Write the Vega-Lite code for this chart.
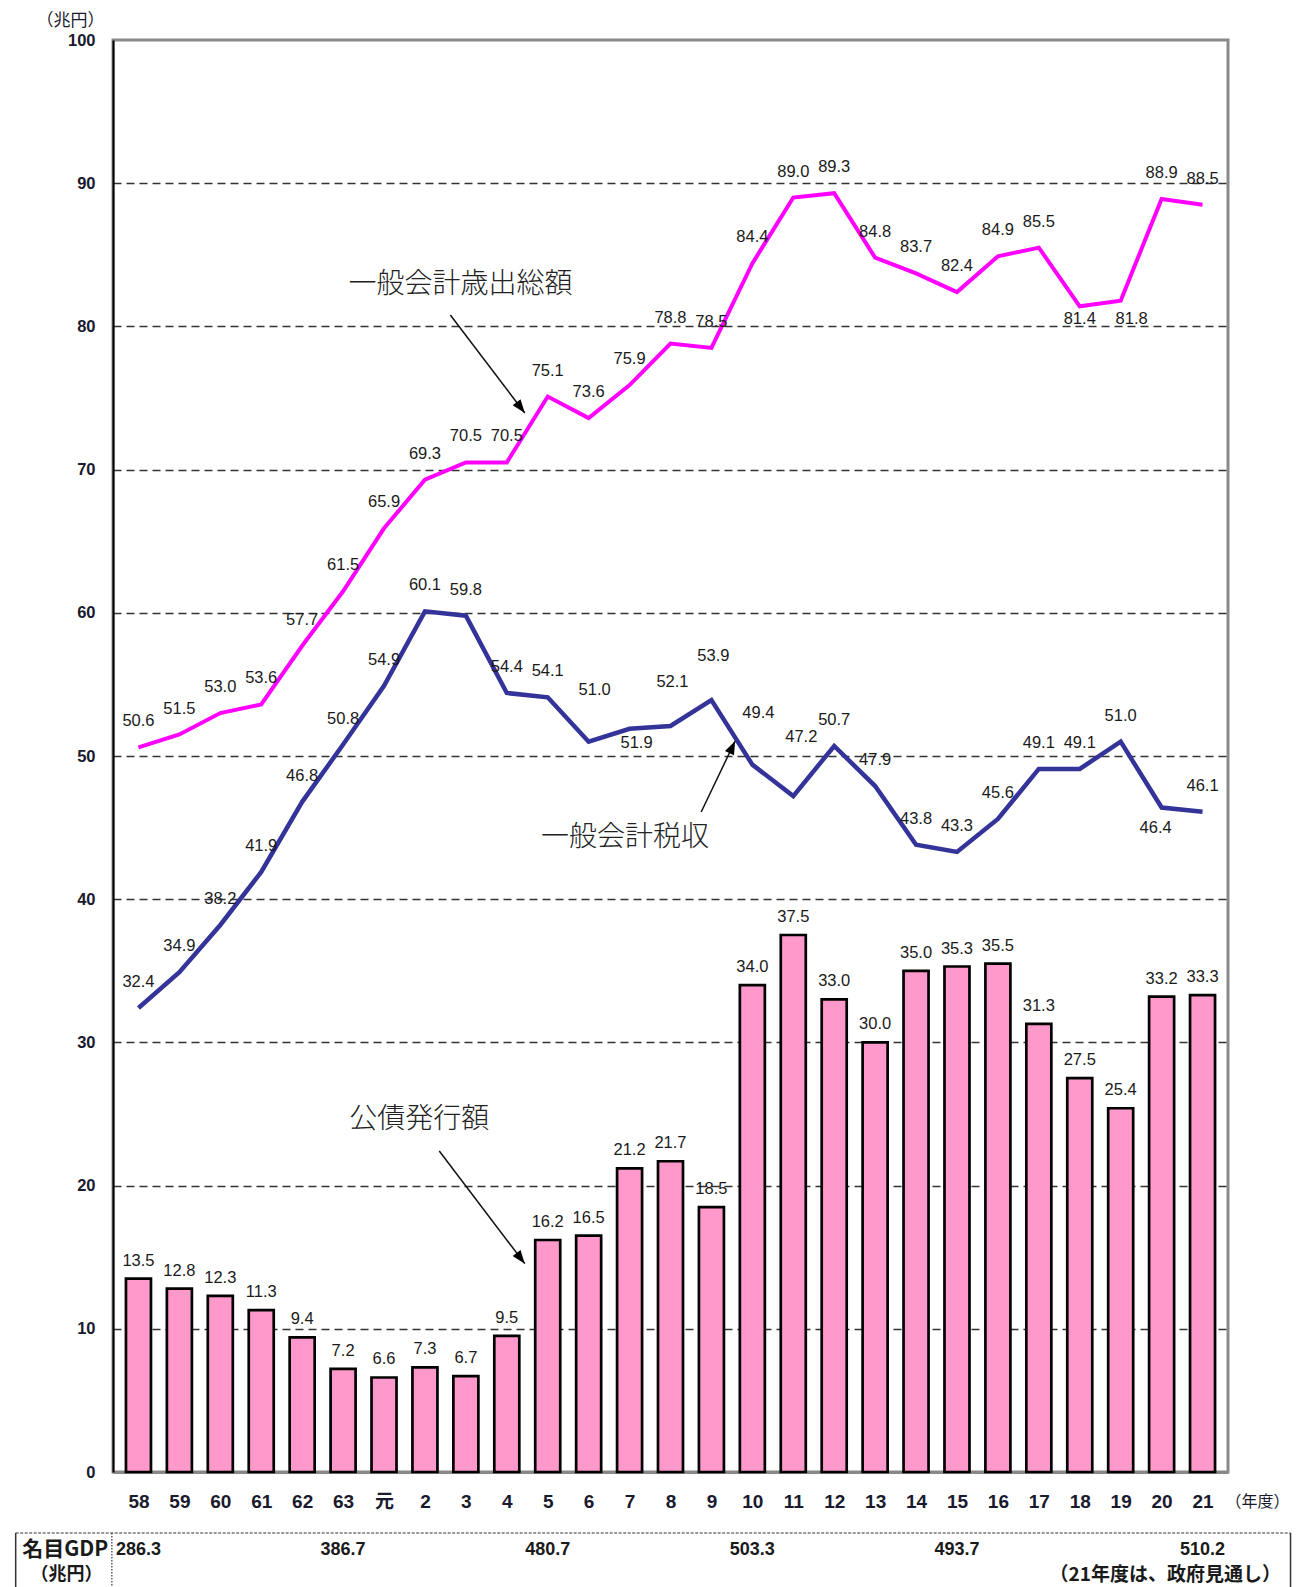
{
  "$schema": "https://vega.github.io/schema/vega-lite/v6.json",
  "width": 1115,
  "height": 1432,
  "autosize": {"type": "none"},
  "padding": {"left": 113, "top": 40, "right": 72, "bottom": 115},
  "background": "white",
  "view": {"stroke": "#8a8a8a", "strokeWidth": 3},
  "config": {
    "text": {"font": "Liberation Sans", "fontSize": 16.5, "color": "#1a1a1a", "align": "center", "baseline": "middle"}
  },
  "datasets": {
    "main": [
      {"year": 1983, "spend": 50.6, "tax": 32.4, "bonds": 13.5},
      {"year": 1984, "spend": 51.5, "tax": 34.9, "bonds": 12.8},
      {"year": 1985, "spend": 53.0, "tax": 38.2, "bonds": 12.3},
      {"year": 1986, "spend": 53.6, "tax": 41.9, "bonds": 11.3},
      {"year": 1987, "spend": 57.7, "tax": 46.8, "bonds": 9.4},
      {"year": 1988, "spend": 61.5, "tax": 50.8, "bonds": 7.2},
      {"year": 1989, "spend": 65.9, "tax": 54.9, "bonds": 6.6},
      {"year": 1990, "spend": 69.3, "tax": 60.1, "bonds": 7.3},
      {"year": 1991, "spend": 70.5, "tax": 59.8, "bonds": 6.7},
      {"year": 1992, "spend": 70.5, "tax": 54.4, "bonds": 9.5},
      {"year": 1993, "spend": 75.1, "tax": 54.1, "bonds": 16.2},
      {"year": 1994, "spend": 73.6, "tax": 51.0, "bonds": 16.5},
      {"year": 1995, "spend": 75.9, "tax": 51.9, "bonds": 21.2},
      {"year": 1996, "spend": 78.8, "tax": 52.1, "bonds": 21.7},
      {"year": 1997, "spend": 78.5, "tax": 53.9, "bonds": 18.5},
      {"year": 1998, "spend": 84.4, "tax": 49.4, "bonds": 34.0},
      {"year": 1999, "spend": 89.0, "tax": 47.2, "bonds": 37.5},
      {"year": 2000, "spend": 89.3, "tax": 50.7, "bonds": 33.0},
      {"year": 2001, "spend": 84.8, "tax": 47.9, "bonds": 30.0},
      {"year": 2002, "spend": 83.7, "tax": 43.8, "bonds": 35.0},
      {"year": 2003, "spend": 82.4, "tax": 43.3, "bonds": 35.3},
      {"year": 2004, "spend": 84.9, "tax": 45.6, "bonds": 35.5},
      {"year": 2005, "spend": 85.5, "tax": 49.1, "bonds": 31.3},
      {"year": 2006, "spend": 81.4, "tax": 49.1, "bonds": 27.5},
      {"year": 2007, "spend": 81.8, "tax": 51.0, "bonds": 25.4},
      {"year": 2008, "spend": 88.9, "tax": 46.4, "bonds": 33.2},
      {"year": 2009, "spend": 88.5, "tax": 46.1, "bonds": 33.3}
    ],
    "gdp": [
      {"year": 1983, "gdp": 286.3},
      {"year": 1988, "gdp": 386.7},
      {"year": 1993, "gdp": 480.7},
      {"year": 1998, "gdp": 503.3},
      {"year": 2003, "gdp": 493.7},
      {"year": 2009, "gdp": 510.2}
    ],
    "notes": [
      {"text": "一般会計歳出総額", "year": 1990.87, "value": 82.86},
      {"text": "一般会計税収", "year": 1994.89, "value": 44.25},
      {"text": "公債発行額", "year": 1989.86, "value": 24.6}
    ],
    "arrows": [
      {"name": "spend", "year": 1990.62, "value": 80.8, "year2": 1992.44, "value2": 73.95},
      {"name": "tax", "year": 1996.75, "value": 46.09, "year2": 1997.58, "value2": 51.05},
      {"name": "bonds", "year": 1990.35, "value": 22.42, "year2": 1992.44, "value2": 14.55}
    ]
  },
  "layer": [
    {
      "data": {"name": "main"},
      "encoding": {
        "x": {
          "field": "year", "type": "quantitative",
          "scale": {"domain": [1982.5, 2009.5], "nice": false, "zero": false},
          "axis": {
            "values": [1983,1984,1985,1986,1987,1988,1989,1990,1991,1992,1993,1994,1995,1996,1997,1998,1999,2000,2001,2002,2003,2004,2005,2006,2007,2008,2009],
            "labelExpr": "datum.value == 1989 ? '元' : '' + (datum.value < 1989 ? datum.value - 1925 : datum.value - 1988)",
            "labelFont": "Liberation Sans, Noto Sans CJK JP",
            "labelFontSize": 19,
            "labelFontWeight": "bold",
            "labelColor": "#1a1a2e",
            "labelBaseline": "middle",
            "labelPadding": 29,
            "labelFlush": false,
            "labelOverlap": false,
            "ticks": false,
            "grid": false,
            "domainColor": "#888888",
            "domainWidth": 3,
            "title": "（年度）",
            "titleX": 1144,
            "titleY": 29,
            "titleAlign": "center",
            "titleBaseline": "middle",
            "titleFont": "Noto Sans CJK JP",
            "titleFontSize": 16,
            "titleFontWeight": "normal",
            "titleColor": "#1a1a2e"
          }
        },
        "y": {
          "field": "bonds", "type": "quantitative",
          "scale": {"domain": [0, 100], "nice": false},
          "axis": {
            "values": [0,10,20,30,40,50,60,70,80,90,100],
            "title": "（兆円）",
            "titleAngle": 0,
            "titleAlign": "center",
            "titleBaseline": "middle",
            "titleX": -43,
            "titleY": -20,
            "titleFont": "Noto Sans CJK JP",
            "titleFontSize": 17,
            "titleFontWeight": "normal",
            "titleColor": "#1a1a2e",
            "labelFont": "Liberation Sans",
            "labelFontSize": 16.5,
            "labelFontWeight": "bold",
            "labelColor": "#1a1a2e",
            "labelPadding": 18,
            "ticks": false,
            "domainColor": "#000000",
            "domainWidth": 2,
            "grid": true,
            "gridDash": [8, 5],
            "gridColor": "#333333",
            "gridWidth": 1.3,
            "gridOpacity": {"condition": {"test": "datum.value == 0 || datum.value == 100", "value": 0}, "value": 1}
          }
        }
      },
      "layer": [
        {
          "mark": {"type": "bar", "size": 25, "fill": "#FF99CC", "stroke": "#000000", "strokeWidth": 2.7}
        },
        {
          "mark": {"type": "text", "dy": -18},
          "encoding": {
            "text": {"field": "bonds", "type": "quantitative", "format": ".1f"}
          }
        },
        {
          "mark": {"type": "line", "color": "#FF00FF", "strokeWidth": 4},
          "encoding": {
            "y": {"field": "spend", "type": "quantitative"}
          }
        },
        {
          "mark": {"type": "line", "color": "#333399", "strokeWidth": 4.5},
          "encoding": {
            "y": {"field": "tax", "type": "quantitative"}
          }
        },
        {
          "transform": [{"filter": "datum.year != 2006 && datum.year != 2007"}],
          "mark": {"type": "text", "dy": -26},
          "encoding": {
            "y": {"field": "spend", "type": "quantitative"},
            "text": {"field": "spend", "type": "quantitative", "format": ".1f"}
          }
        },
        {
          "transform": [{"filter": "datum.year == 2006"}],
          "mark": {"type": "text", "dy": 13},
          "encoding": {
            "y": {"field": "spend", "type": "quantitative"},
            "text": {"field": "spend", "type": "quantitative", "format": ".1f"}
          }
        },
        {
          "transform": [{"filter": "datum.year == 2007"}],
          "mark": {"type": "text", "dy": 18, "dx": 11},
          "encoding": {
            "y": {"field": "spend", "type": "quantitative"},
            "text": {"field": "spend", "type": "quantitative", "format": ".1f"}
          }
        },
        {
          "transform": [{"filter": "indexof([1994,1995,1996,1997,1998,1999,2008], datum.year) < 0"}],
          "mark": {"type": "text", "dy": -26},
          "encoding": {
            "y": {"field": "tax", "type": "quantitative"},
            "text": {"field": "tax", "type": "quantitative", "format": ".1f"}
          }
        },
        {
          "transform": [{"filter": "datum.year == 1994 || datum.year == 1998"}],
          "mark": {"type": "text", "dy": -52, "dx": 6},
          "encoding": {
            "y": {"field": "tax", "type": "quantitative"},
            "text": {"field": "tax", "type": "quantitative", "format": ".1f"}
          }
        },
        {
          "transform": [{"filter": "datum.year == 1999"}],
          "mark": {"type": "text", "dy": -59, "dx": 8},
          "encoding": {
            "y": {"field": "tax", "type": "quantitative"},
            "text": {"field": "tax", "type": "quantitative", "format": ".1f"}
          }
        },
        {
          "transform": [{"filter": "datum.year == 1996 || datum.year == 1997"}],
          "mark": {"type": "text", "dy": -44, "dx": 2},
          "encoding": {
            "y": {"field": "tax", "type": "quantitative"},
            "text": {"field": "tax", "type": "quantitative", "format": ".1f"}
          }
        },
        {
          "transform": [{"filter": "datum.year == 1995"}],
          "mark": {"type": "text", "dy": 14, "dx": 7},
          "encoding": {
            "y": {"field": "tax", "type": "quantitative"},
            "text": {"field": "tax", "type": "quantitative", "format": ".1f"}
          }
        },
        {
          "transform": [{"filter": "datum.year == 2008"}],
          "mark": {"type": "text", "dy": 20, "dx": -6},
          "encoding": {
            "y": {"field": "tax", "type": "quantitative"},
            "text": {"field": "tax", "type": "quantitative", "format": ".1f"}
          }
        },
        {
          "data": {"name": "arrows"},
          "mark": {"type": "rule", "color": "#111111", "strokeWidth": 1.5},
          "encoding": {
            "y": {"field": "value", "type": "quantitative"},
            "x2": {"field": "year2"},
            "y2": {"field": "value2"}
          }
        },
        {
          "data": {"name": "arrows"},
          "transform": [{"filter": "datum.name != 'tax'"}],
          "mark": {"type": "point", "shape": "M0,0L-0.55,1.5L0.55,1.5Z", "size": 324, "filled": true, "color": "#000000", "opacity": 1, "angle": 142.6},
          "encoding": {
            "x": {"field": "year2", "type": "quantitative"},
            "y": {"field": "value2", "type": "quantitative"}
          }
        },
        {
          "data": {"name": "arrows"},
          "transform": [{"filter": "datum.name == 'tax'"}],
          "mark": {"type": "point", "shape": "M0,0L-0.55,1.5L0.55,1.5Z", "size": 324, "filled": true, "color": "#000000", "opacity": 1, "angle": 25},
          "encoding": {
            "x": {"field": "year2", "type": "quantitative"},
            "y": {"field": "value2", "type": "quantitative"}
          }
        },
        {
          "data": {"name": "notes"},
          "mark": {"type": "text", "font": "Noto Sans CJK JP", "fontSize": 28, "fontWeight": 300, "color": "#222222"},
          "encoding": {
            "y": {"field": "value", "type": "quantitative"},
            "text": {"field": "text"}
          }
        }
      ]
    },
    {
      "data": {"name": "gdp"},
      "mark": {"type": "text", "fontSize": 18, "fontWeight": "bold", "color": "#1a1a1a"},
      "encoding": {
        "x": {"field": "year", "type": "quantitative"},
        "y": {"datum": -5.45, "type": "quantitative"},
        "text": {"field": "gdp", "type": "quantitative", "format": ".1f"}
      }
    },
    {
      "data": {"values": [{"label": "名目GDP"}]},
      "mark": {"type": "text", "font": "Noto Sans CJK JP", "fontSize": 21, "fontWeight": "bold", "color": "#1a1a1a"},
      "encoding": {
        "x": {"datum": 1981.21, "type": "quantitative"},
        "y": {"datum": -5.45, "type": "quantitative"},
        "text": {"field": "label"}
      }
    },
    {
      "data": {"values": [{"label": "（兆円）"}]},
      "mark": {"type": "text", "font": "Noto Sans CJK JP", "fontSize": 18, "fontWeight": "bold", "color": "#1a1a1a"},
      "encoding": {
        "x": {"datum": 1981.24, "type": "quantitative"},
        "y": {"datum": -7.2, "type": "quantitative"},
        "text": {"field": "label"}
      }
    },
    {
      "data": {"values": [{"label": "（21年度は、政府見通し）"}]},
      "mark": {"type": "text", "font": "Noto Sans CJK JP", "fontSize": 19, "fontWeight": "bold", "color": "#1a1a1a"},
      "encoding": {
        "x": {"datum": 2008.09, "type": "quantitative"},
        "y": {"datum": -7.2, "type": "quantitative"},
        "text": {"field": "label"}
      }
    },
    {
      "data": {"values": [{}]},
      "mark": {"type": "rule", "color": "#333333", "strokeWidth": 1.2, "strokeDash": [3, 1.5]},
      "encoding": {
        "x": {"datum": 1980.0, "type": "quantitative"},
        "x2": {"datum": 2011.15},
        "y": {"datum": -4.26, "type": "quantitative"}
      }
    },
    {
      "data": {"values": [{"edge": 1980.0}, {"edge": 2011.15}]},
      "mark": {"type": "rule", "color": "#333333", "strokeWidth": 1.5},
      "encoding": {
        "x": {"field": "edge", "type": "quantitative"},
        "y": {"datum": -4.26, "type": "quantitative"},
        "y2": {"datum": -9.0}
      }
    },
    {
      "data": {"values": [{}]},
      "mark": {"type": "rule", "color": "#333333", "strokeWidth": 1.2, "strokeDash": [1.5, 1.5]},
      "encoding": {
        "x": {"datum": 1982.35, "type": "quantitative"},
        "y": {"datum": -4.26, "type": "quantitative"},
        "y2": {"datum": -9.0}
      }
    }
  ]
}
